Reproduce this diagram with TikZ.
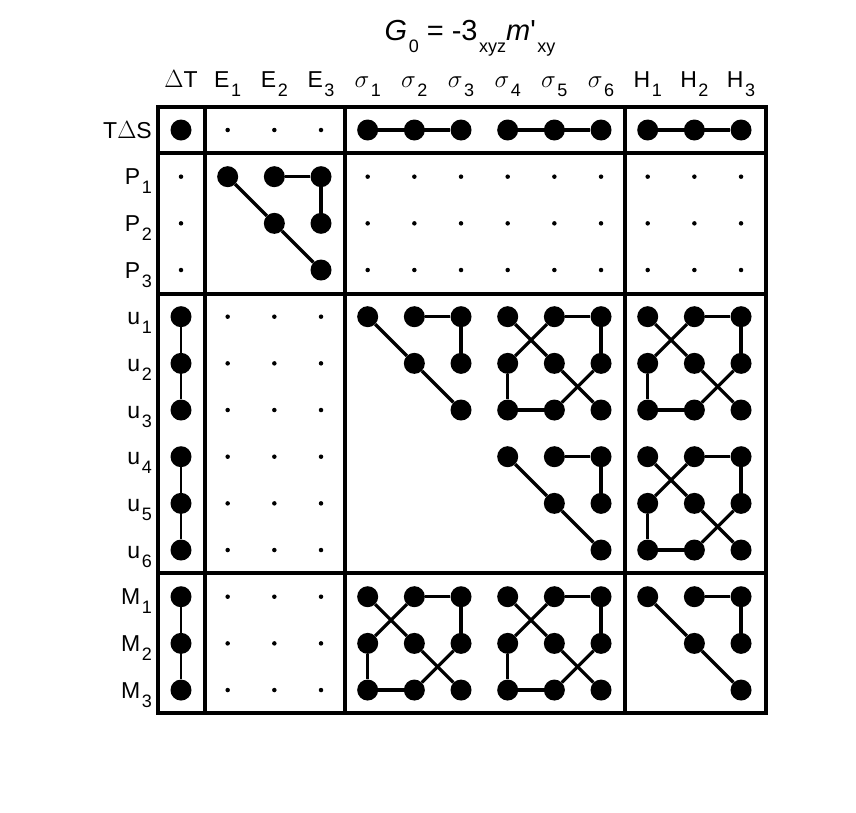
\documentclass[tikz,border=0pt]{standalone}
\usepackage{fontspec}
\setmainfont{Liberation Sans}
\usetikzlibrary{positioning}
\tikzset{
	bigdot/.style={circle,fill=black,inner sep=0pt,minimum size=21pt},
	smalldot/.style={circle,fill=black,inner sep=0pt,minimum size=4.5pt},
	link/.style={line width=3.2pt},
	chain/.style={line width=1.8pt},
	frame/.style={line width=3.4pt},
	lab/.style={font=\fontsize{23}{25}\selectfont,inner sep=0pt}
}
\newcommand\sub[1]{\kern1.5pt\raisebox{-0.75ex}{\fontsize{18}{18}\selectfont #1}}
\newcommand\dotat[3]{\node[#1] (n-#2-#3) at ({181+46.67*#3},{130+46.67*#2}) {};}
\newcommand\dotblock[4]{% rows #1..#2, cols #3..#4, small dots
	\foreach \r in {#1,...,#2}{\foreach \c in {#3,...,#4}{\dotat{smalldot}{\r}{\c}}}}
\newcommand\joinat[6]{% base r, base c, then offsets
	\pgfmathtruncatemacro\ra{#1+#3}\pgfmathtruncatemacro\ca{#2+#4}%
	\pgfmathtruncatemacro\rb{#1+#5}\pgfmathtruncatemacro\cb{#2+#6}%
	\draw[link] (n-\ra-\ca) -- (n-\rb-\cb);}
\newcommand\tripat[2]{%
	\foreach \i/\j in {0/0,0/1,0/2,1/1,1/2,2/2}{%
		\pgfmathtruncatemacro\rr{#1+\i}\pgfmathtruncatemacro\cc{#2+\j}\dotat{bigdot}{\rr}{\cc}}
	\foreach \a/\b/\p/\q in {0/0/1/1,1/1/2/2,0/1/0/2,0/2/1/2}{\joinat{#1}{#2}{\a}{\b}{\p}{\q}}}
\newcommand\fullpat[2]{%
	\foreach \i in {0,1,2}{\foreach \j in {0,1,2}{%
		\pgfmathtruncatemacro\rr{#1+\i}\pgfmathtruncatemacro\cc{#2+\j}\dotat{bigdot}{\rr}{\cc}}}
	\foreach \a/\b/\p/\q in {0/0/1/1,1/1/2/2,0/1/0/2,0/2/1/2,0/1/1/0,1/0/2/0,2/0/2/1,2/1/1/2}{\joinat{#1}{#2}{\a}{\b}{\p}{\q}}}
\newcommand\rowpat[2]{% a chain of three along a row
	\foreach \j in {0,1,2}{\pgfmathtruncatemacro\cc{#2+\j}\dotat{bigdot}{#1}{\cc}}
	\pgfmathtruncatemacro\ce{#2+2}\draw[link] (n-#1-#2) -- (n-#1-\ce);}
\newcommand\colpat[1]{% a chain of three down the first column
	\foreach \i in {0,1,2}{\pgfmathtruncatemacro\rr{#1+\i}\dotat{bigdot}{\rr}{0}}
	\pgfmathtruncatemacro\re{#1+2}\draw[chain] (n-#1-0) -- (n-\re-0);}

\begin{document}
\begin{tikzpicture}[x=1pt,y=-1pt]
	\useasboundingbox (0,0) rectangle (856,812);

	% title
	\node[font=\fontsize{29}{32}\selectfont] (title) at (470,38)
		{\textit{G}\sub{0} = -3\sub{xyz}\textit{m}\textquotesingle\sub{xy}};

	% headers
	\foreach \c/\t in {0/$\Delta$T,1/E\sub{1},2/E\sub{2},3/E\sub{3},
		4/$\sigma$\sub{1},5/$\sigma$\sub{2},6/$\sigma$\sub{3},7/$\sigma$\sub{4},8/$\sigma$\sub{5},9/$\sigma$\sub{6},
		10/H\sub{1},11/H\sub{2},12/H\sub{3}}
		\node[lab,anchor=base] (h-\c) at ({181+46.67*\c},87) {\t};
	\foreach \r/\t in {0/T$\Delta$S,1/P\sub{1},2/P\sub{2},3/P\sub{3},4/u\sub{1},5/u\sub{2},6/u\sub{3},
		7/u\sub{4},8/u\sub{5},9/u\sub{6},10/M\sub{1},11/M\sub{2},12/M\sub{3}}
		\node[lab,anchor=base east] (l-\r) at (152,{138+46.67*\r}) {\t};

	% frame
	\draw[frame] (158,107) rectangle (766,713);
	\foreach \x in {205,345,625} \draw[frame] (\x,107) -- (\x,713);
	\foreach \y in {153,294,573} \draw[frame] (158,\y) -- (766,\y);

	% small dots
	\dotblock{0}{0}{1}{3}
	\dotblock{1}{3}{0}{0}
	\dotblock{1}{3}{4}{12}
	\dotblock{4}{12}{1}{3}

	% big dots
	\dotat{bigdot}{0}{0}
	\rowpat{0}{4}
	\rowpat{0}{7}
	\rowpat{0}{10}
	\colpat{4}
	\colpat{7}
	\colpat{10}
	\tripat{1}{1}
	\tripat{4}{4}
	\tripat{7}{7}
	\tripat{10}{10}
	\fullpat{4}{7}
	\fullpat{4}{10}
	\fullpat{7}{10}
	\fullpat{10}{4}
	\fullpat{10}{7}
\end{tikzpicture}
\end{document}
